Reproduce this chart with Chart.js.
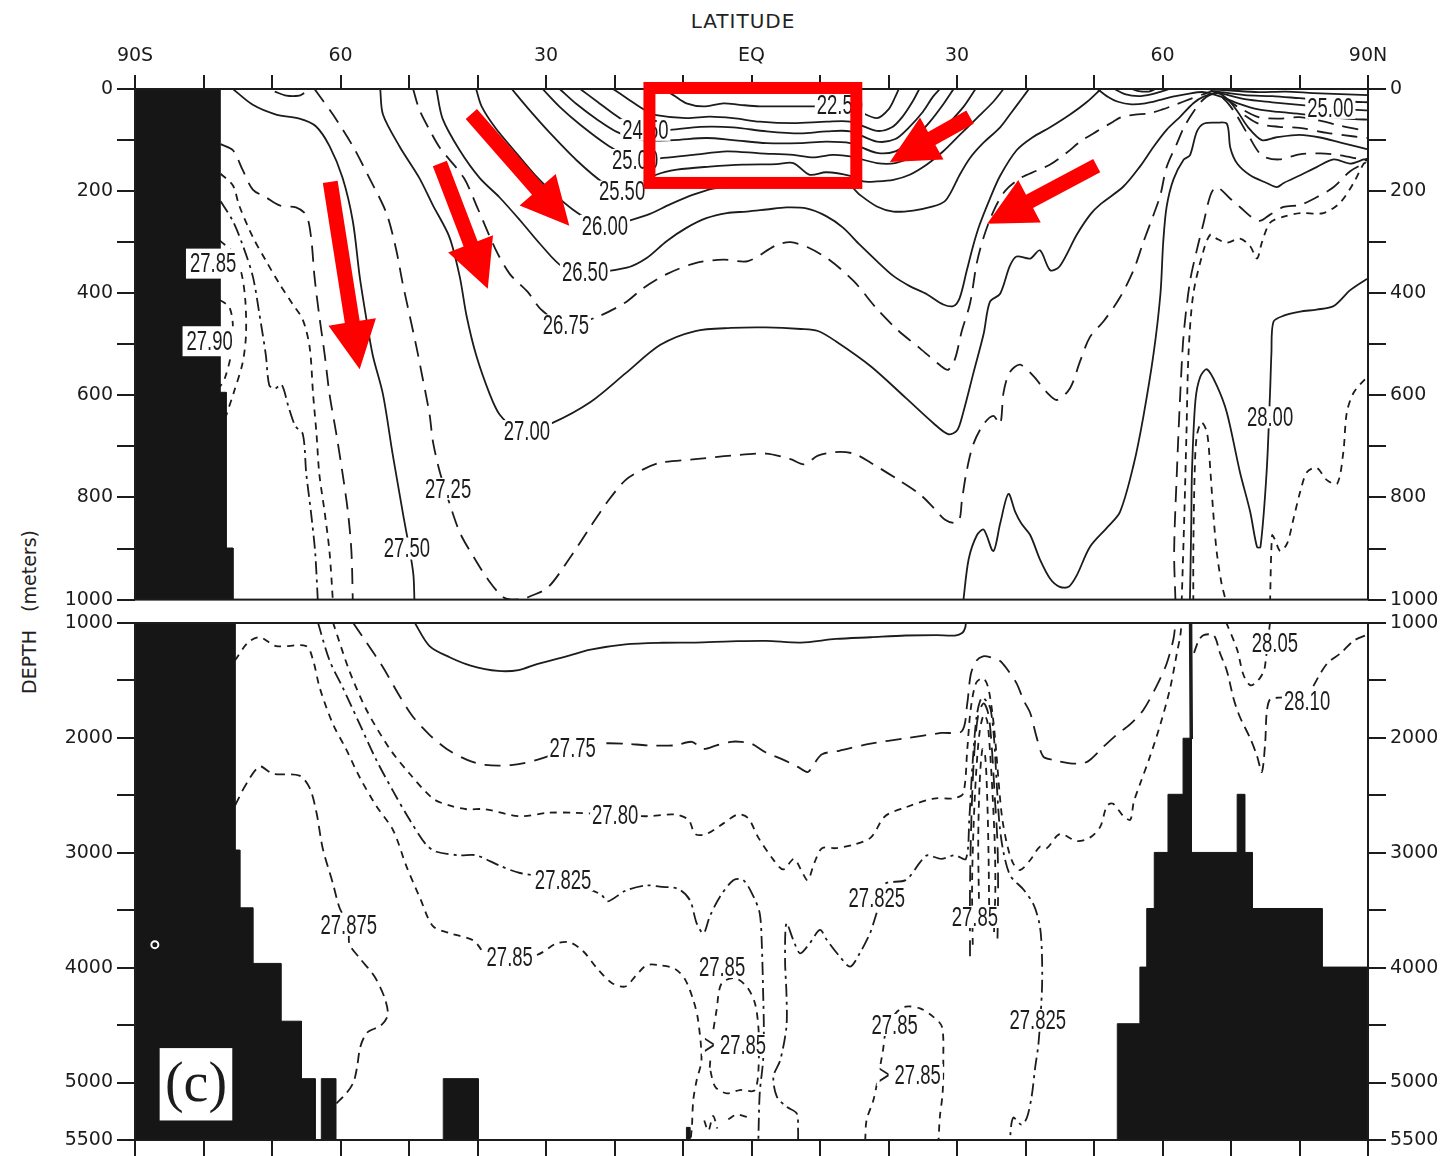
<!DOCTYPE html>
<html>
<head>
<meta charset="utf-8">
<title>Density section (c)</title>
<script src="https://cdn.jsdelivr.net/npm/chart.js@4.4.1/dist/chart.umd.min.js"></script>
<style>
  html, body { margin: 0; padding: 0; background: #fff; }
  body { position: relative; width: 1444px; height: 1156px; overflow: hidden; color: #222; font-family: "DejaVu Sans", sans-serif; }
  canvas { position: absolute; left: 0; }
  #topChart { top: 0; }
  #botChart { top: 598px; }
  #latTitle { position: absolute; left: 743px; top: 21px; transform: translate(-50%, -50%); font-size: 20px; letter-spacing: 1px; }
  #depthTitle { position: absolute; left: 29px; top: 612px; transform: translate(-50%, -50%) rotate(-90deg); font-size: 19px; white-space: nowrap; }
</style>
</head>
<body>
<div id="latTitle">LATITUDE</div>
<div id="depthTitle">DEPTH&nbsp;&nbsp;&nbsp;(meters)</div>
<canvas id="topChart" width="1444" height="615"></canvas>
<canvas id="botChart" width="1444" height="558"></canvas>
<script>
// Axis ticks
const latTicks = [-90, -60, -30, 0, 30, 60, 90];
const latTickLabels = ['90S', '60', '30', 'EQ', '30', '60', '90N'];
const topDepthLabels = [0, 200, 400, 600, 800, 1000];
const botDepthLabels = [1000, 2000, 3000, 4000, 5000, 5500];

// Isopycnals, upper panel (0-1000 m): [latitude, depth]
const top2750S = [[-75.7,0],[-72.8,31],[-69.4,50],[-66,58],[-63.6,73],[-61.6,112],[-59.7,174],[-58.2,259],[-57.2,367],[-56.3,444],[-55.3,521],[-53.8,598],[-52.4,714],[-50.9,830],[-49.4,946],[-49.2,1005]];
const top2750N = [[30.9,1005],[31.7,921],[32.9,874],[33.9,863],[35.3,905],[36.3,851],[37.5,793],[38.5,828],[39.4,851],[40.7,874],[42.1,921],[43.6,959],[45,975],[46.3,975],[47.5,952],[49.4,897],[51.9,859],[53.8,828],[55.8,735],[57.2,642],[58.7,518],[59.7,401],[60.1,301],[60.6,231],[61.6,177],[63.1,138],[64,130],[65,84],[66,68],[67.9,66],[69.4,68],[69.9,115],[70.9,146],[72.8,169],[75.2,184],[76.7,192],[77.7,184],[80.1,169],[82.5,153],[85,138],[87.4,146],[89.4,138],[90,136]];
const topArcS = [[-69.6,5],[-67.9,13],[-66,13],[-65.3,8]];
const top2725 = [[-63.8,0],[-61.1,50],[-58.2,112],[-55.8,174],[-53.3,243],[-51.9,313],[-50.9,382],[-49.9,444],[-48.9,506],[-48,567],[-47,637],[-46.5,691],[-45.5,750],[-44,815],[-42.5,871],[-40.4,920],[-38.4,962],[-36.3,995],[-35,1000],[-33.5,999],[-32.2,993],[-29.7,976],[-26.6,920],[-23.5,857],[-21,808],[-18.4,766],[-15.8,745],[-13.3,732],[-8.2,725],[-3,718],[2.1,714],[5.7,725],[7.7,735],[9.7,718],[12.3,711],[14.9,714],[17.4,732],[21.5,766],[24.6,794],[26.7,822],[28.2,843],[29.7,850],[30.4,841],[30.7,808],[31.4,749],[32.4,695],[33.9,656],[35.3,640],[36.3,656],[36.8,594],[37.7,555],[39.2,540],[41.2,563],[43.1,594],[44.6,609],[46.5,586],[48,532],[49.4,486],[51.4,455],[53.8,408],[55.8,354],[57.2,300],[58.7,246],[59.7,207],[60.6,153],[62.1,107],[63.1,76],[64.5,45],[66,20],[67.5,10],[69,20],[70.5,45],[72.5,90],[74.5,130],[77,138],[80,128],[83,126],[86,130],[89,138],[90,140]];
const top2700 = [[-54.2,0],[-53.8,50],[-51.4,112],[-48.5,174],[-46.5,228],[-44.1,290],[-42.6,367],[-41.6,444],[-40.2,521],[-38.2,598],[-36.8,637],[-34.5,665],[-32.8,670],[-29.2,655],[-23.5,613],[-18.4,557],[-13.3,501],[-8.2,474],[-3,468],[2.1,467],[7.2,470],[9.7,474],[12.3,494],[17.4,543],[22.6,606],[26.6,655],[28.7,676],[30,669],[30.9,634],[32.4,556],[33.9,479],[34.8,417],[36.3,401],[37.7,347],[38.7,328],[40.7,332],[42.1,316],[43.6,355],[45,347],[47.5,285],[49.5,245],[51,225],[54.3,191],[56.7,152],[58.7,113],[60.6,80],[62.6,54],[64.5,28],[66,15],[68,8],[69.5,20],[71,45],[72.5,75],[74.5,100],[76.5,95],[80,90],[83,95],[86,105],[89,115],[90,118]];
const top2675 = [[-49.4,0],[-48.5,40],[-47,80],[-45.5,115],[-42,174],[-39.9,236],[-37.4,313],[-35.3,362],[-32.7,397],[-30.7,432],[-27.1,463],[-22.5,446],[-18.4,418],[-15.8,390],[-12.3,362],[-8.2,341],[-4.1,334],[-0.5,337],[3.6,306],[5.7,300],[8.2,310],[11.3,334],[14.9,376],[18.4,432],[21.5,474],[24.6,508],[27.7,543],[28.7,550],[29.7,529],[30.7,474],[31.9,420],[32.9,340],[33.9,290],[35.3,240],[37,200],[39.2,175],[41.6,160],[43.6,148],[46,125],[48,103],[50.4,83],[52.8,64],[54,55],[56,50],[58,48],[60,40],[62,30],[64,20],[66,10],[67.5,5],[71,35],[74,55],[77,58],[80,55],[83,62],[86,72],[89,80],[90,82]];
const top2650 = [[-46,0],[-45.1,58],[-42.6,120],[-39.7,174],[-36.8,212],[-33.8,257],[-30.7,306],[-27.6,348],[-24.3,359],[-18.2,350],[-15.3,331],[-12.4,298],[-9.5,272],[-6.6,253],[-3.6,243],[-0.7,240],[2.2,236],[5.1,232],[8,234],[10.9,249],[13.4,272],[15.8,305],[18.3,337],[20.7,366],[23.1,386],[25.6,402],[28,422],[29.5,425],[30.4,409],[31.4,357],[32.4,305],[33.3,266],[34.8,215],[36.3,170],[38.7,120],[41,95],[43.6,75],[46.5,50],[49,25],[51,0]];
const top2600 = [[-40.2,0],[-39.4,34],[-37.4,76],[-34.8,118],[-31.7,167],[-28.6,208],[-26.1,236],[-23.5,258],[-21.4,268],[-15.3,247],[-11.9,226],[-8.5,207],[-5.6,195],[-1,188],[4,186],[9,186],[12,186],[14.4,190],[15.8,207],[18.3,230],[20.7,240],[23.6,238],[26.5,230],[28.2,220],[29.2,200],[30.4,168],[31.9,135],[33.8,106],[36.3,75],[38,45],[39.5,18],[40.5,0]];
const top2550 = [[-35,0],[-32.5,40],[-29.5,85],[-25.5,140],[-21.5,185],[-18.9,201],[-13.9,168],[-10.9,158],[-6.1,152],[-1.2,148],[3.7,147],[6.1,145],[8.5,168],[10.9,163],[14.4,170],[16.3,181],[18.3,181],[20.7,178],[23.1,168],[25.6,148],[28,122],[30.4,90],[32.9,57],[35.3,25],[36.8,0]];
const top2500 = [[-30.5,0],[-28,35],[-25,70],[-21,110],[-17,139],[-12.9,135],[-8.5,129],[-3.6,122],[1.2,126],[6.1,129],[9,134],[11.9,129],[14.4,132],[18.3,145],[21,145],[23.5,132],[26,105],[28.6,70],[31,34],[32.7,0]];
const top2475 = [[-28,0],[-25.5,30],[-22.5,60],[-19.5,85],[-16,100],[-11.4,100],[-6.6,96],[-2.7,100],[2.2,106],[7.1,106],[11,103],[14.4,106],[18.3,125],[21,122],[23.5,100],[26,65],[28,30],[29.5,0]];
const top2450 = [[-25,0],[-22.5,25],[-20,50],[-17.5,72],[-15.5,80],[-11.9,80],[-7.5,74],[-2.7,75],[2.2,83],[7.1,87],[11,83],[14.4,83],[18.3,103],[21,98],[23,75],[25,45],[26.5,15],[27.5,0]];
const top2400 = [[-20.2,0],[-18,20],[-15.5,42],[-13.9,51],[-9.5,57],[-6.1,54],[-2.7,57],[1.2,64],[6.1,67],[11,64],[14.4,64],[18.3,82],[20.5,75],[22,55],[23.5,25],[24.5,0]];
const top2250 = [[-12.9,0],[-11.4,12],[-9.5,28],[-7,34],[-4.1,28],[-1.7,31],[1.2,34],[5.1,34],[9,34],[11.9,34],[15,40],[18.3,57],[20,40],[21,15],[21.5,0]];
const topW2775 = [[-77.5,108],[-75.7,120],[-74.3,158],[-72.8,197],[-70.9,212],[-68.9,228],[-66.5,232],[-65,247],[-64.3,290],[-63.8,367],[-63.1,444],[-62.3,521],[-61.6,598],[-60.6,676],[-59.7,753],[-58.9,830],[-58.4,907],[-58.2,1005]];
const topW2780 = [[-77.5,166],[-75.7,189],[-74.8,228],[-72.8,290],[-70.9,336],[-68.9,382],[-67,421],[-65.5,452],[-64.5,506],[-64,598],[-63.5,676],[-63.1,753],[-62.3,830],[-61.6,907],[-61.1,1005]];
const topW2782 = [[-77.5,220],[-75.7,259],[-74.3,305],[-72.8,367],[-71.8,444],[-70.9,521],[-70.4,580],[-69.6,587],[-68.6,579],[-67.6,622],[-66.6,660],[-65.5,676],[-65,753],[-64.3,830],[-63.7,907],[-63.3,1005]];
const topW2785 = [[-77.6,297],[-75.7,320],[-74.5,359],[-73.9,413],[-73.8,483],[-74.3,537],[-75.5,591],[-76.7,640]];
const topW2790 = [[-77.6,413],[-76.2,428],[-75.7,467],[-76,521],[-76.9,567],[-77.6,583]];
const topN2775 = [[61.9,1005],[61.7,905],[62.1,750],[62.6,595],[63.1,479],[64,378],[65,316],[66,262],[67,208],[67.9,192],[69.9,215],[71.3,231],[73.3,254],[74.3,258],[75.7,246],[77.7,231],[80.1,227],[82.5,212],[85,192],[87.4,161],[89.4,146],[90,143]];
const topN2780 = [[62.8,1005],[63.2,828],[63.5,673],[63.8,518],[64.5,401],[66,316],[67,285],[67.9,293],[69.4,301],[71.3,293],[72.8,308],[73.8,332],[74.5,301],[75.7,262],[77.7,250],[80.1,243],[83.5,243],[85.9,223],[87.9,184],[89.4,146],[90,143]];
const topN2800 = [[64,1005],[64.2,850],[64.3,750],[64.8,611],[65.5,564],[66.5,549],[67.9,580],[69.4,634],[71.3,750],[72.8,828],[73.8,897],[74.3,897],[75.2,750],[75.7,595],[75.9,518],[76.2,456],[77.7,444],[80.1,436],[82.5,432],[85,425],[87.4,394],[89.6,374],[90,372]];
const topN2805a = [[64.5,1005],[64.5,905],[64.7,750],[65,680],[65.7,653],[66.5,673],[67,750],[67.4,828],[67.9,905],[68.6,967],[69.3,1005]];
const topN2805b = [[75.7,1005],[76,874],[76.4,882],[77.2,905],[78.2,890],[79.1,843],[80.1,789],[81.1,750],[82.5,742],[84,766],[85.5,773],[86.4,711],[86.9,634],[87.9,595],[89.6,568],[90,566]];
const topA0 = [[67.5,4],[72,12],[76,14],[80,18],[84,22],[88,25],[90,26]];
const topA1 = [[66.5,0],[70,3],[74,6],[78,5],[82,8],[86,10],[90,12]];
const topA2 = [[67,3],[69,10],[72,20],[76,26],[80,31],[84.5,37],[87,40],[90,42]];
const topA3 = [[50.5,0],[52,15],[53.5,25],[55.5,30],[57.5,28],[59.5,22],[61.5,15],[63.5,10],[66,6],[68.5,15],[71,28],[74,40],[77,45],[81,50],[85,56],[88,59],[90,60]];
const topA4 = [[72,52],[74,68],[77,74],[80,76],[84,86],[88,93],[90,96]];
const topS2 = [[53,0],[54.5,10],[56.5,14],[58.5,10],[60,4],[61,0]];
const topS3 = [[55.5,0],[56.5,4],[58,5],[59,0]];

// Isopycnals, lower panel (1000-5500 m)
const bot2750 = [[-49.2,995],[-47,1201],[-44,1300],[-41,1370],[-37,1417],[-34,1410],[-31.2,1355],[-27,1290],[-23.5,1232],[-18.4,1186],[-13,1172],[-8.2,1170],[-3,1160],[2.1,1155],[7.2,1170],[12.3,1139],[17.4,1124],[22.5,1109],[27,1105],[29.7,1109],[30.8,1085],[31.2,1040],[31.3,995]];
const bot2775 = [[-58.2,995],[-56.2,1170],[-53.8,1386],[-51.4,1633],[-49.4,1818],[-47,1973],[-44.5,2096],[-41.6,2189],[-38.9,2235],[-34.8,2235],[-31.2,2189],[-26.1,2088],[-22.5,2050],[-18.4,2050],[-15.3,2065],[-11.2,2065],[-8.7,2034],[-7.1,2096],[-5.1,2065],[-3,2034],[-1.5,2034],[0,2050],[2.1,2127],[4.6,2189],[6.7,2250],[8.2,2297],[9.2,2220],[10.3,2142],[12.8,2112],[17.4,2050],[22.5,2004],[27.7,1957],[30.7,1942],[31.5,1700],[32,1450],[32.8,1330],[33.8,1290],[35,1300],[36.3,1330],[37.3,1400],[38.7,1525],[39.7,1670],[40.7,1786],[41.6,1989],[42.6,2163],[44.1,2192],[46.5,2221],[48.4,2221],[49.4,2192],[51.4,2076],[53.3,1973],[55.3,1880],[57.2,1757],[59.2,1541],[60.6,1355],[61.6,1139],[61.9,995]];
const bot2780 = [[-61.1,995],[-58.7,1417],[-56.2,1757],[-52.8,2096],[-49.9,2312],[-46.5,2528],[-44,2590],[-41.6,2621],[-38.9,2621],[-33.8,2682],[-29.7,2652],[-25.6,2652],[-19.9,2671],[-15.3,2682],[-11.2,2667],[-9.2,2713],[-8.2,2837],[-6.6,2837],[-4.1,2744],[-2,2667],[-0.5,2698],[1,2868],[3.1,3053],[4.6,3145],[6.2,3053],[7.2,3145],[8.2,3238],[9.2,3084],[10.3,2960],[12.3,2960],[14.9,2929],[17.4,2868],[19.5,2682],[22.5,2605],[26.6,2528],[29.5,2526],[30.9,2483],[31.5,2100],[32,1750],[32.8,1520],[33.8,1480],[34.5,1550],[35.2,1800],[35.7,2100],[36.1,2400],[36.6,2700],[37.4,2950],[38.2,3092],[39.2,3150],[40.7,3063],[42.1,2947],[43.1,2960],[45,2837],[47.5,2898],[49.4,2868],[50.9,2775],[51.9,2590],[52.8,2574],[54.3,2682],[55.3,2713],[55.8,2559],[56.7,2405],[58.2,2158],[59.7,1880],[61.1,1571],[62.1,1263],[62.6,1109],[62.8,995]];
const bot2782W = [[-63.3,995],[-61.6,1325],[-59.6,1571],[-57.2,1880],[-54.8,2189],[-52.3,2466],[-49.9,2713],[-47.5,2929],[-46,2991],[-42.6,3022],[-40.2,3022],[-36.7,3114],[-33.8,3176],[-27.5,3237],[-22,3361],[-21,3423],[-18.4,3330],[-15.3,3284],[-13.4,3295],[-10.7,3315],[-9,3411],[-8,3614],[-7,3701],[-6.1,3556],[-4.6,3382],[-2.6,3237],[-1.2,3237],[0.3,3382],[1.2,3527],[1.5,3788],[1.7,4223],[1.8,4514],[1.7,4804],[1.2,5094],[1,5505]];
const bot2782E = [[6.8,5505],[6.8,5413],[6.6,5268],[5.1,5210],[3.7,5123],[3.2,4949],[4.2,4804],[5.1,4514],[5.1,4223],[4.9,3933],[5.1,3614],[6.1,3759],[7.1,3875],[8.5,3788],[10,3672],[11,3759],[12.9,3904],[14.4,3991],[15.8,3875],[17.3,3701],[17.8,3614],[18.8,3420],[19.5,3269],[22.5,3238],[24.6,3084],[25.6,3022],[27.7,3053],[29.7,3022],[31.3,3053],[31.8,2700],[32.3,2200],[32.9,1800],[33.6,1650],[34.3,1680],[34.9,1750],[35.4,2000],[35.8,2400],[36.2,2750],[36.8,3000],[37.8,3200],[39.7,3320],[41.2,3454],[42.1,3639],[42.4,3886],[42.4,4195],[41.9,4658],[41.4,4874],[40.9,5120],[40.2,5306],[39.4,5367],[38.2,5306],[37.7,5505]];
const bot2784 = [[31.9,3900],[31.9,3300],[32.1,2700],[32.5,2150],[33.1,1800],[33.9,1700],[34.6,1800],[35.1,2100],[35.5,2500],[35.9,2900],[36,3300],[35.9,3800]];
const bot2785W = [[-75.4,1325],[-73.5,1170],[-71.8,1124],[-69.4,1201],[-65,1201],[-64,1325],[-63,1571],[-61.1,1880],[-59.2,2096],[-57.2,2343],[-54.8,2590],[-52.3,2806],[-50.4,3114],[-48.4,3392],[-46.5,3639],[-44,3701],[-40.6,3763],[-38.7,3886],[-35.3,3910],[-31.2,3886],[-28.6,3793],[-26.6,3778],[-24.6,3855],[-22.5,4009],[-20.4,4133],[-18.4,4164],[-16.9,4071],[-15.3,3979],[-13.3,3979],[-11.2,4009],[-9.7,4102],[-8.5,4281],[-7.8,4455],[-7.3,4804],[-8,4978],[-8.5,5152],[-8.7,5384],[-8.9,5505]];
const bot2785Dome = [[-6.1,4870],[-5.7,4600],[-5.1,4370],[-4.4,4140],[-2.5,4090],[-0.7,4165],[0.5,4310],[1,4514],[1.1,4750],[0.5,5065],[-1.7,5065],[-3.6,5094],[-5.3,5036],[-6.1,4870]];
const bot2785East = [[16.6,5505],[16.8,5326],[17.8,5152],[18.5,4949],[19.2,4717],[19.6,4560],[21,4400],[22.5,4340],[24.6,4354],[26.5,4426],[27.8,4514],[28,4804],[27.9,5094],[27.5,5297],[27.3,5505]];
const bot2785Ridge = [[32.3,3800],[32.2,3300],[32.4,2800],[32.8,2300],[33.3,1950],[33.9,1800],[34.4,1850],[34.8,2100],[35.2,2500],[35.5,2900],[35.6,3300],[35.4,3700]];
const bot2785Core = [[33.2,3400],[33.1,2900],[33.3,2400],[33.7,2100],[34.1,2150],[34.4,2500],[34.6,3000],[34.7,3500]];
const bot2787 = [[-75.4,2590],[-73.8,2405],[-71.8,2250],[-69.9,2312],[-66,2328],[-64.5,2436],[-63.5,2652],[-62.6,2960],[-61.1,3269],[-60.1,3485],[-58.8,3628],[-58.7,3793],[-57.2,3917],[-55.1,4071],[-53.6,4256],[-53.1,4411],[-54.1,4503],[-56.1,4565],[-57.1,4688],[-57.6,4873],[-58.1,4997],[-59.1,5090],[-60.6,5182]];
const bot2800 = [[64.1,995],[64.15,1500],[64.2,2010]];
const bot2805 = [[69.3,995],[70.9,1232],[71.8,1448],[72.8,1541],[73.8,1510],[74.8,1417],[75.1,1309],[75.4,1150],[75.7,995]];
const bot2810 = [[64.6,1260],[65.3,1150],[66,1105],[67.5,1109],[68.4,1263],[69.4,1417],[70.4,1664],[71.3,1818],[72.8,2003],[73.8,2158],[74.5,2297],[75,2034],[75.2,1788],[75.7,1664],[77,1650],[79,1650],[81,1680],[82.1,1541],[84,1355],[86,1263],[87.9,1155],[89.6,1109],[90,1100]];
const botBits1 = [[-6.9,5330],[-6.3,5420],[-5.6,5290],[-5,5400]];
const botBits2 = [[-3.4,5320],[-2.2,5280],[-0.6,5300]];

// Sea floor (top of the black area)
const topGround = [[-90,0],[-77.6,0],[-77.6,594],[-76.7,594],[-76.7,899],[-75.7,899],[-75.7,1000]];
const botGroundW = [[-90,1000],[-75.4,1000],[-75.4,2976],[-74.7,2976],[-74.7,3479],[-72.8,3479],[-72.8,3963],[-68.7,3963],[-68.7,4466],[-65.7,4466],[-65.7,4966],[-63.7,4966],[-63.7,5500]];
const botSill1 = [[-62.8,5500],[-62.8,4966],[-60.7,4966],[-60.7,5500]];
const botSill2 = [[-45,5500],[-45,4966],[-39.9,4966],[-39.9,5500]];
const botSill3 = [[-9.5,5500],[-9.5,5390],[-9,5390],[-9,5500]];
const botGroundE = [[53.4,5500],[53.4,4488],[56.7,4488],[56.7,3995],[57.7,3995],[57.7,3485],[58.8,3485],[58.8,2997],[60.8,2997],[60.8,2491],[63,2491],[63,2003],[64.2,2003],[64.2,2997],[70.9,2997],[70.9,2491],[72,2491],[72,2997],[73.1,2997],[73.1,3485],[83.3,3485],[83.3,3995],[90,3995],[90,5500]];

// Contour labels: [text, latitude, depth]
const topLabels = [['22.50',12.9,31],['24.50',-15.5,80],['25.00',-17,139],['25.50',-18.9,201],['26.00',-21.4,268],['26.50',-24.3,359],['26.75',-27.1,463],['27.00',-32.8,670],['27.25',-44.3,783],['27.50',-50.3,900],['28.00',75.7,643],['25.00',84.5,37]];
const topBoxLabels = [['27.85',-78.6,342],['27.90',-79.1,494]];
const botLabels = [['27.75',-26.1,2088],['27.80',-19.9,2671],['27.825',-27.5,3237],['27.85',-35.3,3907],['27.875',-58.8,3628],['27.85',-4.3,3994],['> 27.85',-2.4,4673],['27.825',18.3,3393],['27.85',32.6,3559],['27.85',20.9,4499],['> 27.85',23.1,4934],['27.825',41.8,4455],['28.05',76.4,1174],['28.10',81.1,1679]];

// Red marks added over the figure: box [lat0, d0, lat1, d1], arrows [latTail, dTail, latTip, dTip]
const redBox = [-14.9, -2, 15.3, 184];
const redArrows = [[-61.5,182,-57.2,549],[-45.5,146,-38.5,391],[-40.9,49,-26.6,268],[31.9,55,20.2,143],[50.4,150,34.4,264]];
const tagBox = [-86.4, 4700, -75.8, 5330];
const ring = [-87.1, 3800];

const INK = '#1c1c1c';
const GROUND = '#161616';
const RED = '#ff0000';
const SOLID = [], LONG = [16, 9], SHORT = [7, 6], DASHDOT = [13, 5, 3, 5], MID = [10, 6];
const tickFont = { family: '"DejaVu Sans", sans-serif', size: 19 };

function pts(a) { return a.map(p => ({ x: p[0], y: p[1] })); }

function iso(a, dash, width) {
    return { data: pts(a), borderColor: INK, borderWidth: width || 1.8, borderDash: dash,
             pointRadius: 0, tension: 0.3, fill: false };
}

function ground(a, base) {
    return { data: pts(a), borderColor: GROUND, backgroundColor: GROUND, borderWidth: 1,
             pointRadius: 0, tension: 0, fill: { value: base } };
}

function latAxis(position, labelled, tickLength, size) {
    return {
        type: 'linear', position: position, min: -90, max: 90,
        afterFit: s => { s.height = size; },
        ticks: {
            display: labelled, stepSize: 10, autoSkip: false, maxRotation: 0, padding: 8,
            color: INK, font: tickFont,
            callback: v => { const i = latTicks.indexOf(v); return i >= 0 ? latTickLabels[i] : ''; }
        },
        grid: { drawOnChartArea: false, drawTicks: true, tickLength: tickLength, color: INK, lineWidth: 2 },
        border: { display: false }
    };
}

function depthAxis(position, min, max, step, labelled, width) {
    return {
        type: 'linear', position: position, reverse: true, min: min, max: max,
        afterFit: s => { s.width = width; },
        ticks: {
            stepSize: step, autoSkip: false, padding: 4, color: INK, font: tickFont,
            callback: v => labelled.includes(v) ? String(v) : ''
        },
        grid: { drawOnChartArea: false, drawTicks: true, tickLength: 18, color: INK, lineWidth: 2 },
        border: { display: false }
    };
}

function drawLabel(ctx, text, px, py, boxed) {
    ctx.save();
    ctx.font = '28px "Liberation Sans", Arial, sans-serif';
    const w = ctx.measureText(text).width * 0.66;
    ctx.fillStyle = '#fff';
    if (boxed) ctx.fillRect(px - w / 2 - 4, py - 15, w + 8, 30);
    else ctx.fillRect(px - w / 2 - 2, py - 11, w + 4, 22);
    ctx.translate(px, py);
    ctx.scale(0.66, 1);
    ctx.fillStyle = INK;
    ctx.textAlign = 'center';
    ctx.textBaseline = 'middle';
    ctx.fillText(text, 0, 1);
    ctx.restore();
}

function arrow(ctx, x0, y0, x1, y1) {
    const len = Math.hypot(x1 - x0, y1 - y0);
    const head = 48, halfHead = 24, halfShaft = 7.5;
    ctx.save();
    ctx.translate(x0, y0);
    ctx.rotate(Math.atan2(y1 - y0, x1 - x0));
    ctx.beginPath();
    ctx.moveTo(0, -halfShaft);
    ctx.lineTo(len - head, -halfShaft);
    ctx.lineTo(len - head, -halfHead);
    ctx.lineTo(len, 0);
    ctx.lineTo(len - head, halfHead);
    ctx.lineTo(len - head, halfShaft);
    ctx.lineTo(0, halfShaft);
    ctx.closePath();
    ctx.fill();
    ctx.restore();
}

function drawRed(ctx, x, y) {
    ctx.fillStyle = RED;
    ctx.strokeStyle = RED;
    ctx.lineWidth = 12;
    const bx0 = x.getPixelForValue(redBox[0]), by0 = y.getPixelForValue(redBox[1]);
    const bx1 = x.getPixelForValue(redBox[2]), by1 = y.getPixelForValue(redBox[3]);
    ctx.strokeRect(bx0, by0, bx1 - bx0, by1 - by0);
    redArrows.forEach(r => arrow(ctx, x.getPixelForValue(r[0]), y.getPixelForValue(r[1]),
                                      x.getPixelForValue(r[2]), y.getPixelForValue(r[3])));
}

function drawTag(ctx, x, y) {
    const x0 = x.getPixelForValue(tagBox[0]), y0 = y.getPixelForValue(tagBox[1]);
    const x1 = x.getPixelForValue(tagBox[2]), y1 = y.getPixelForValue(tagBox[3]);
    ctx.fillStyle = '#fff';
    ctx.fillRect(x0, y0, x1 - x0, y1 - y0);
    ctx.fillStyle = INK;
    ctx.font = '56px "Liberation Serif", "DejaVu Serif", serif';
    ctx.textAlign = 'center';
    ctx.textBaseline = 'middle';
    ctx.fillText('(c)', (x0 + x1) / 2, (y0 + y1) / 2 + 2);
    ctx.strokeStyle = '#fff';
    ctx.lineWidth = 2;
    ctx.beginPath();
    ctx.arc(x.getPixelForValue(ring[0]), y.getPixelForValue(ring[1]), 3.5, 0, Math.PI * 2);
    ctx.stroke();
}

// frame, contour labels and extras on top of the lines
function overlay(labels, boxed, extra) {
    return {
        id: 'overlay',
        afterDatasetsDraw(chart) {
            const { ctx, chartArea: a } = chart;
            const x = chart.scales.x, y = chart.scales.y;
            ctx.save();
            ctx.setLineDash([]);
            ctx.strokeStyle = INK;
            ctx.lineWidth = 2;
            ctx.strokeRect(a.left, a.top, a.right - a.left, a.bottom - a.top);
            labels.forEach(l => drawLabel(ctx, l[0], x.getPixelForValue(l[1]), y.getPixelForValue(l[2]), false));
            boxed.forEach(l => drawLabel(ctx, l[0], x.getPixelForValue(l[1]), y.getPixelForValue(l[2]), true));
            if (extra) extra(ctx, x, y);
            ctx.restore();
        }
    };
}

const topSets = [
    ground(topGround, 1000),
    iso(top2750S, SOLID), iso(top2750N, SOLID), iso(topArcS, SOLID),
    iso(top2725, LONG), iso(top2700, SOLID), iso(top2675, LONG), iso(top2650, SOLID), iso(top2600, SOLID),
    iso(top2550, SOLID), iso(top2500, SOLID), iso(top2475, SOLID), iso(top2450, SOLID), iso(top2400, SOLID), iso(top2250, SOLID),
    iso(topW2775, LONG), iso(topW2780, SHORT), iso(topW2782, DASHDOT), iso(topW2785, SHORT), iso(topW2790, SHORT),
    iso(topN2775, LONG), iso(topN2780, SHORT), iso(topN2800, SOLID), iso(topN2805a, SHORT), iso(topN2805b, SHORT),
    iso(topA0, SOLID), iso(topA1, SOLID), iso(topA2, SOLID), iso(topA3, SOLID), iso(topA4, LONG),
    iso(topS2, SOLID), iso(topS3, SOLID)
];

const botSets = [
    ground(botGroundW, 5500), ground(botSill1, 5500), ground(botSill2, 5500), ground(botSill3, 5500), ground(botGroundE, 5500),
    iso(bot2750, SOLID), iso(bot2775, LONG), iso(bot2780, SHORT),
    iso(bot2782W, DASHDOT), iso(bot2782E, DASHDOT), iso(bot2784, LONG),
    iso(bot2785W, SHORT), iso(bot2785Dome, SHORT), iso(bot2785East, SHORT), iso(bot2785Ridge, SHORT), iso(bot2785Core, SHORT),
    iso(bot2787, MID), iso(bot2800, SOLID, 3.5), iso(bot2805, SHORT), iso(bot2810, MID),
    iso(botBits1, SHORT), iso(botBits2, SHORT)
];

const common = {
    responsive: false, maintainAspectRatio: false, animation: false, events: [], devicePixelRatio: 1,
    plugins: { legend: { display: false }, tooltip: { enabled: false } }
};

new Chart(document.getElementById('topChart'), {
    type: 'line',
    data: { datasets: topSets },
    options: Object.assign({}, common, {
        layout: { padding: { left: 0, right: 0, top: 0, bottom: 14 } },
        scales: {
            x: latAxis('top', true, 14, 89),
            y: depthAxis('left', 0, 1000, 100, topDepthLabels, 135),
            y2: depthAxis('right', 0, 1000, 100, topDepthLabels, 76)
        }
    }),
    plugins: [overlay(topLabels, topBoxLabels, drawRed)]
});

new Chart(document.getElementById('botChart'), {
    type: 'line',
    data: { datasets: botSets },
    options: Object.assign({}, common, {
        layout: { padding: { left: 0, right: 0, top: 25, bottom: 0 } },
        scales: {
            x: latAxis('bottom', false, 16, 16),
            y: depthAxis('left', 1000, 5500, 500, botDepthLabels, 135),
            y2: depthAxis('right', 1000, 5500, 500, botDepthLabels, 76)
        }
    }),
    plugins: [overlay(botLabels, [], drawTag)]
});
</script>
</body>
</html>
